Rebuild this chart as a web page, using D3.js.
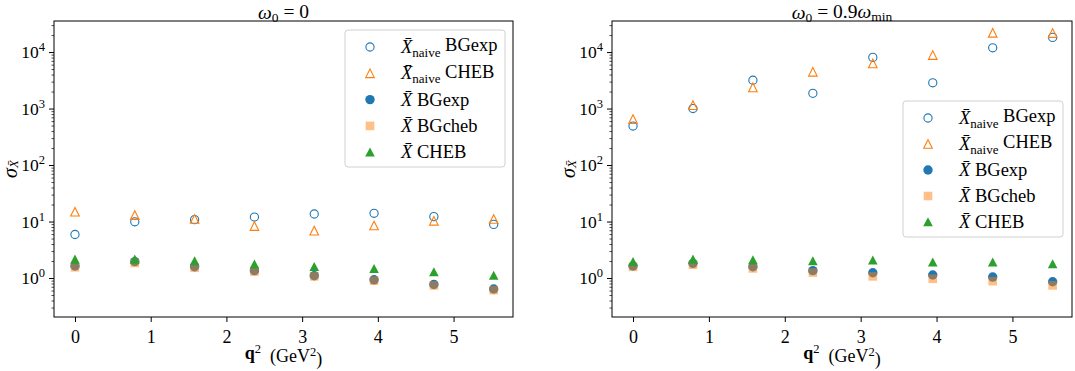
<!DOCTYPE html>
<html>
<head>
<meta charset="utf-8">
<script src="https://cdn.jsdelivr.net/npm/d3@7"></script>
<style>
  html, body { margin: 0; padding: 0; background: #fff; }
  svg text { font-family: "Liberation Serif", "DejaVu Serif", serif; fill: #000; }
</style>
</head>
<body>
<svg id="fig" width="1075" height="371"></svg>
<script>
// momentum transfer values (GeV^2)
const q2 = [0, 0.79, 1.58, 2.37, 3.16, 3.95, 4.74, 5.53];
const xTicks = [0, 1, 2, 3, 4, 5];
const yTickExps = [0, 1, 2, 3, 4];

// omega_0 = 0
const naiveBGexpA = [5.9, 9.9, 10.8, 12.0, 13.6, 14.0, 12.2, 8.9];
const naiveChebA  = [14.9, 13.0, 11.1, 8.3, 6.9, 8.5, 10.3, 11.1];
const bgExpA      = [1.63, 1.95, 1.58, 1.35, 1.10, 0.93, 0.77, 0.64];
const bgChebA     = [1.55, 1.85, 1.52, 1.30, 1.07, 0.90, 0.74, 0.61];
const chebA       = [2.14, 2.14, 2.00, 1.75, 1.58, 1.46, 1.28, 1.11];

// omega_0 = 0.9 omega_min
const naiveBGexpB = [490, 1000, 3180, 1860, 8050, 2860, 11900, 18200];
const naiveChebB  = [650, 1150, 2370, 4470, 6300, 8850, 21900, 21700];
const bgExpB      = [1.63, 1.82, 1.58, 1.35, 1.24, 1.13, 1.04, 0.86];
const bgChebB     = [1.58, 1.72, 1.48, 1.25, 1.07, 0.97, 0.88, 0.74];
const chebB       = [1.94, 2.14, 2.08, 2.00, 2.06, 1.90, 1.90, 1.77];

const BLUE = "#1f77b4", ORANGE = "#ff7f0e", GREEN = "#2ca02c";
const FONT = "Liberation Serif, DejaVu Serif, serif";
const svg = d3.select("#fig");
const MS = 8.6; // marker size (px)

function marker(g, type, x, y) {
  const h = MS / 2;
  if (type === "openCircle") {
    g.append("circle").attr("cx", x).attr("cy", y).attr("r", h - 0.2)
      .attr("fill", "none").attr("stroke", BLUE).attr("stroke-width", 1.1);
  } else if (type === "openTri") {
    g.append("path").attr("d", `M${x},${y - h}L${x - h},${y + h}L${x + h},${y + h}Z`)
      .attr("fill", "none").attr("stroke", ORANGE).attr("stroke-width", 1.1);
  } else if (type === "dot") {
    g.append("circle").attr("cx", x).attr("cy", y).attr("r", h + 0.4).attr("fill", BLUE);
  } else if (type === "square") {
    g.append("rect").attr("x", x - h).attr("y", y - h).attr("width", MS).attr("height", MS)
      .attr("fill", ORANGE).attr("fill-opacity", 0.5);
  } else if (type === "tri") {
    g.append("path").attr("d", `M${x},${y - h - 0.5}L${x - h - 0.5},${y + h}L${x + h + 0.5},${y + h}Z`)
      .attr("fill", GREEN);
  }
}

function supLabel(sel, base, exp, expSize) {
  sel.text(null);
  sel.append("tspan").text(base);
  sel.append("tspan").attr("dy", "-0.55em").attr("font-size", expSize).text(exp);
}

function panel(opts) {
  const { left, right, top, bottom, title, series, legend } = opts;
  const x = d3.scaleLinear().domain([-0.277, 5.785]).range([left, right]);
  const y = d3.scaleLog().domain([Math.pow(10, -0.69), Math.pow(10, 4.55)]).range([bottom, top]);
  const g = svg.append("g").attr("font-family", FONT);

  // axes: x
  const xa = g.append("g").attr("transform", `translate(0,${bottom})`)
    .call(d3.axisBottom(x).tickValues(xTicks).tickFormat(d3.format("d"))
      .tickSize(5).tickSizeOuter(0).tickPadding(4));
  xa.attr("font-family", FONT);
  xa.select(".domain").remove();
  xa.selectAll(".tick text").attr("font-size", 18).attr("dy", "0.95em");

  // axes: y major
  const ya = g.append("g").attr("transform", `translate(${left},0)`)
    .call(d3.axisLeft(y).tickValues(yTickExps.map(e => Math.pow(10, e))).tickSize(5).tickSizeOuter(0).tickPadding(4));
  ya.attr("font-family", FONT);
  ya.select(".domain").remove();
  ya.selectAll(".tick text").attr("font-size", 17.5)
    .each(function (d) { supLabel(d3.select(this), "10", String(Math.round(Math.log10(d))), 12.5); });

  // axes: y minor
  const minor = [];
  for (let e = -1; e <= 4; e++) for (let m = 2; m <= 9; m++) {
    const v = m * Math.pow(10, e);
    if (v >= y.domain()[0] && v <= y.domain()[1]) minor.push(v);
  }
  const ym = g.append("g").attr("transform", `translate(${left},0)`)
    .call(d3.axisLeft(y).tickValues(minor).tickSize(2.5).tickSizeOuter(0).tickFormat(""));
  ym.select(".domain").remove();
  ym.selectAll(".tick line").attr("stroke-width", 0.7);

  // frame
  g.append("rect").attr("x", left).attr("y", top).attr("width", right - left).attr("height", bottom - top)
    .attr("fill", "none").attr("stroke", "#000").attr("stroke-width", 1);

  // data
  const order = [
    ["openCircle", series[0]], ["openTri", series[1]], ["dot", series[2]],
    ["square", series[3]], ["tri", series[4]]
  ];
  const mg = g.append("g");
  order.forEach(([type, vals]) => {
    vals.forEach((v, i) => marker(mg, type, x(q2[i]), y(v)));
  });

  // title
  const t = g.append("text").attr("x", (left + right) / 2).attr("y", 19)
    .attr("text-anchor", "middle").attr("font-size", 19.5);
  title(t);

  // x label
  const xl = g.append("text").attr("x", (left + right) / 2).attr("y", 359)
    .attr("text-anchor", "middle").attr("font-size", 18);
  xl.append("tspan").attr("font-weight", "bold").text("q");
  xl.append("tspan").attr("dy", "-0.5em").attr("font-size", 12.5).text("2");
  xl.append("tspan").attr("dy", "0.5em").text("\u2002(GeV");
  xl.append("tspan").attr("dy", "-0.5em").attr("font-size", 12.5).text("2");
  xl.append("tspan").attr("dy", "0.5em").text(")");

  // y label
  const ylx = left - 37, yly = (top + bottom) / 2;
  const yl = g.append("text").attr("transform", `translate(${ylx},${yly}) rotate(-90)`)
    .attr("text-anchor", "middle").attr("font-size", 20);
  yl.append("tspan").attr("font-style", "italic").text("\u03c3");
  yl.append("tspan").attr("dy", "0.1em").attr("font-size", 13).attr("font-style", "italic").text("X\u0304");

  // legend
  const lg = g.append("g");
  lg.append("rect").attr("x", legend.x).attr("y", legend.y).attr("width", legend.w).attr("height", legend.h)
    .attr("rx", 3).attr("fill", "#fff").attr("fill-opacity", 0.8).attr("stroke", "#d0d0d0").attr("stroke-width", 1);
  const entries = [
    ["openCircle", true, "BGexp"], ["openTri", true, "CHEB"], ["dot", false, "BGexp"],
    ["square", false, "BGcheb"], ["tri", false, "CHEB"]
  ];
  entries.forEach(([type, naive, name], i) => {
    const cy = legend.y + 17 + i * legend.dy;
    marker(lg, type, legend.mx, cy);
    const tx = lg.append("text").attr("x", legend.tx).attr("y", cy + 6).attr("font-size", 18.5);
    tx.append("tspan").attr("font-style", "italic").text("X\u0304");
    if (naive) {
      tx.append("tspan").attr("dy", "0.3em").attr("font-size", 13).text("naive");
      tx.append("tspan").attr("dy", "-0.3em").text(" " + name);
    } else {
      tx.append("tspan").text(" " + name);
    }
  });
}

panel({
  left: 54, right: 513, top: 21, bottom: 317,
  series: [naiveBGexpA, naiveChebA, bgExpA, bgChebA, chebA],
  title: t => {
    t.append("tspan").attr("font-style", "italic").text("\u03c9");
    t.append("tspan").attr("dy", "0.25em").attr("font-size", 13.5).text("0");
    t.append("tspan").attr("dy", "-0.25em").text(" = 0");
  },
  legend: { x: 345, y: 30, w: 160, h: 137, dy: 26.3, mx: 370, tx: 401 }
});

panel({
  left: 612, right: 1072, top: 21, bottom: 317,
  series: [naiveBGexpB, naiveChebB, bgExpB, bgChebB, chebB],
  title: t => {
    t.append("tspan").attr("font-style", "italic").text("\u03c9");
    t.append("tspan").attr("dy", "0.25em").attr("font-size", 13.5).text("0");
    t.append("tspan").attr("dy", "-0.25em").text(" = 0.9");
    t.append("tspan").attr("font-style", "italic").text("\u03c9");
    t.append("tspan").attr("dy", "0.25em").attr("font-size", 13.5).text("min");
  },
  legend: { x: 903, y: 101, w: 160, h: 136, dy: 26, mx: 928, tx: 959 }
});
</script>
</body>
</html>
